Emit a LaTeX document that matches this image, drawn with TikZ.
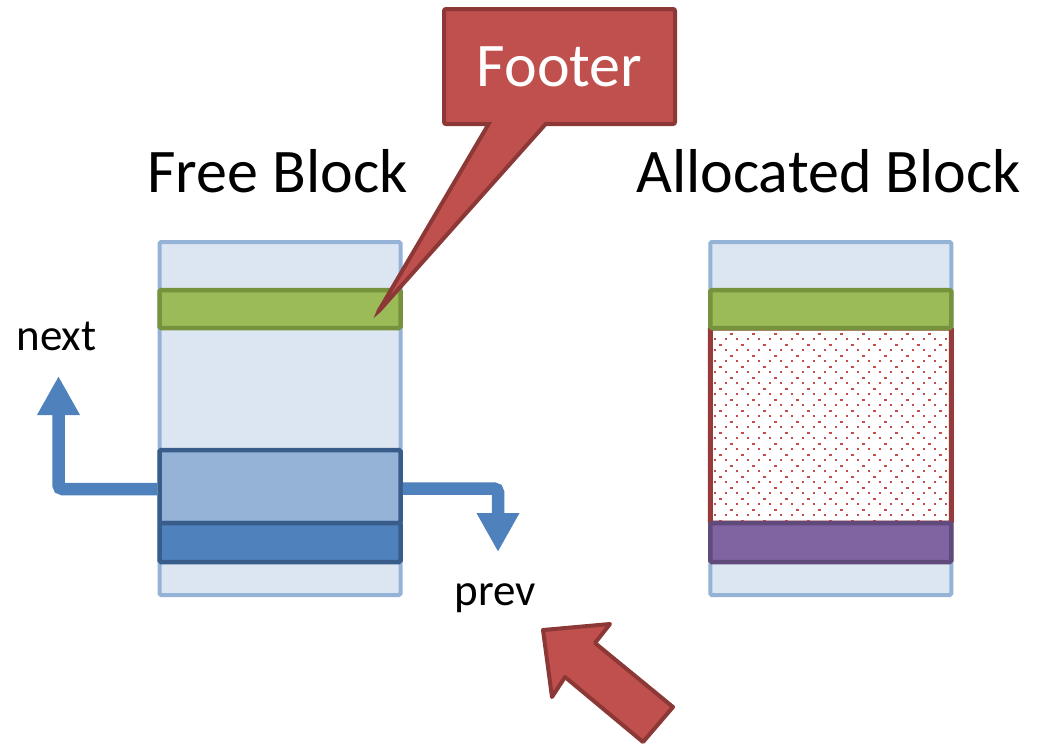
\documentclass[tikz,border=0pt]{standalone}
\usepackage{fontspec}
\setmainfont{Carlito}
\usetikzlibrary{arrows.meta,shapes.callouts}

\definecolor{bgblue}{HTML}{DCE6F2}
\definecolor{edgeblue}{HTML}{95B3D7}
\definecolor{midblue}{HTML}{95B3D7}
\definecolor{deepblue}{HTML}{4F81BD}
\definecolor{navyedge}{HTML}{385D8A}
\definecolor{leaf}{HTML}{9BBB59}
\definecolor{leafedge}{HTML}{76923C}
\definecolor{plum}{HTML}{8064A2}
\definecolor{plumedge}{HTML}{604A7B}
\definecolor{brick}{HTML}{C0504D}
\definecolor{brickedge}{HTML}{8C3836}
\definecolor{payloadedge}{HTML}{963A3A}
\definecolor{speck}{HTML}{C84B4B}

\newcommand{\bigtext}{\fontsize{62}{74}\selectfont}
\newcommand{\smalltext}{\fontsize{45}{54}\selectfont}

\begin{document}
\begin{tikzpicture}[x=1pt,y=-1pt,
  blockbg/.style={draw=edgeblue, fill=bgblue, line width=4pt, rounded corners=1.5pt,
    minimum width=241pt, minimum height=353pt, inner sep=0pt},
  band/.style={line width=4.5pt, rounded corners=1.5pt, minimum width=241pt, inner sep=0pt},
  linkarrow/.style={draw=deepblue, line width=12.5pt, rounded corners=4pt,
    -{Triangle[width=40pt,length=39pt]}},
  title/.style={anchor=base, font=\bigtext, inner sep=0pt},
  tag/.style={anchor=base, font=\smalltext, inner sep=0pt},
  fatarrow/.style={fill=brick, draw=brickedge, line width=4pt, line join=round}]

\useasboundingbox (0,0) rectangle (1049,745);
\fill[white] (0,0) rectangle (1049,745);

% titles
\node[title] (freelabel) at (277.5,192) {Free Block};
\node[title] (alloclabel) at (828.5,192) {Allocated Block};

% free block
\node[blockbg] (free) at (280,418.5) {};
\node[band, draw=leafedge, fill=leaf, minimum height=38pt] (freehdr) at (280,309) {};
\node[band, draw=navyedge, fill=midblue, minimum height=73pt] (links) at (280,486.5) {};
\node[band, draw=navyedge, fill=deepblue, minimum height=39pt] (freeftr) at (280,542.5) {};

% allocated block: payload first, header and footer on top
\node[blockbg] (alloc) at (830.75,418.5) {};
\node[band, draw=payloadedge, line width=5pt, fill=white, minimum height=195pt]
  (payload) at (830.75,425.5) {};
\begin{scope}
  \clip (714,332) rectangle (948,521);
  \foreach \j in {0,...,17} {
    \pgfmathsetmacro{\yh}{333.7+11*\j}
    \pgfmathsetmacro{\yf}{339.2+11*\j}
    \pgfmathsetmacro{\xo}{ifthenelse(mod(\j,2)==0,731.3,720.3)}
    \foreach \k in {0,...,10} {
      \fill[speck] ({\xo+22*\k-1.2},{\yh-1.2}) rectangle ++(2.4,2.4);
    }
    \foreach \k in {0,...,21} {
      \fill[speck] ({715+11*\k-1.2},{\yf-1.2}) rectangle ++(2.4,2.4);
    }
  }
\end{scope}
\node[band, draw=leafedge, fill=leaf, minimum height=38pt] (allochdr) at (830.75,309) {};
\node[band, draw=plumedge, fill=plum, minimum height=39pt] (allocftr) at (830.75,542.5) {};

% next / prev links
\coordinate (nexttip) at (58.5,376);
\coordinate (prevtip) at (498,552);
\draw[linkarrow] ([yshift=-2.5pt]links.west) -| (nexttip);
\draw[linkarrow] ([yshift=-2pt]links.east) -| (prevtip);
\node[tag] (nextlabel) at (56.5,350) {next};
\node[tag] (prevlabel) at (495,605) {prev};

% footer callout
\node[rectangle callout, callout absolute pointer={(378,312)}, callout pointer width=57pt,
  draw=brickedge, fill=brick, line width=4pt, rounded corners=2pt,
  minimum width=231pt, minimum height=115pt, inner sep=0pt,
  text=white, font=\bigtext] (footer) at (559.5,66.5) {Footer};

% pointing arrow
\filldraw[fatarrow] (543,630) -- (610,624) -- (595,643) -- (673,707)
  -- (643,742) -- (565,677) -- (552,697) -- cycle;
\end{tikzpicture}
\end{document}
